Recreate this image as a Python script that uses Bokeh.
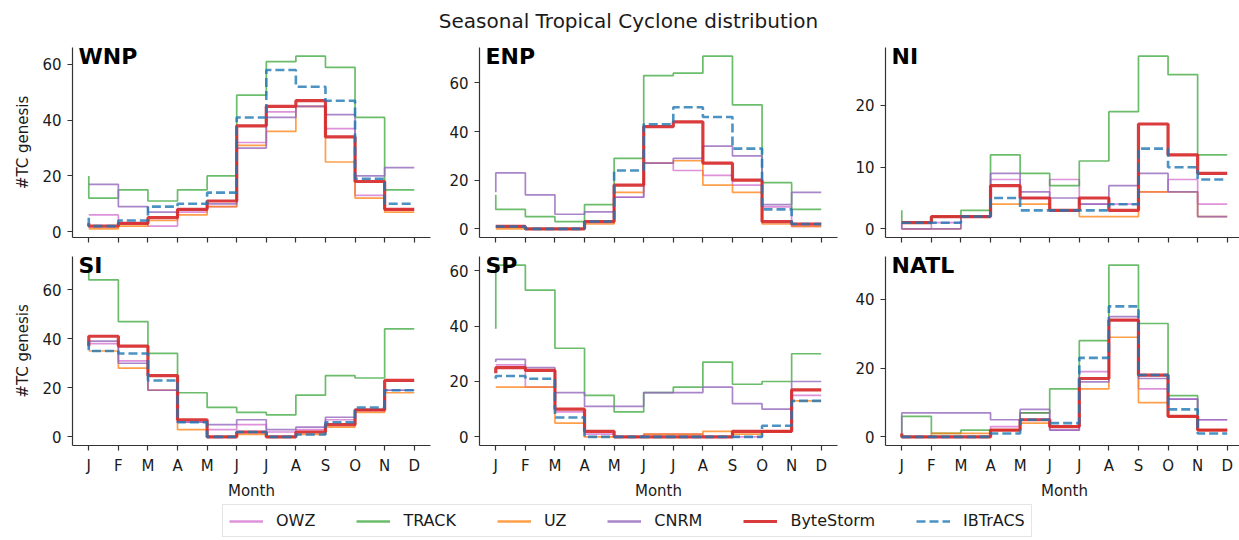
from bokeh.plotting import figure
from bokeh.layouts import column, row
from bokeh.models import Range1d, FixedTicker, SingleIntervalTicker, Label, Legend, LegendItem
from bokeh.embed import file_html
from bokeh.resources import INLINE

# ---------------- data ----------------
months = ["J", "F", "M", "A", "M", "J", "J", "A", "S", "O", "N", "D"]
regions = ["WNP", "ENP", "NI", "SI", "SP", "NATL"]
series_names = ["OWZ", "TRACK", "UZ", "CNRM", "ByteStorm", "IBTrACS"]

owz_wnp = [6, 6, 3, 2, 7, 9, 32, 43, 45, 37, 13, 8]
track_wnp = [20, 12, 15, 11, 15, 20, 49, 61, 63, 59, 41, 15]
uz_wnp = [1, 1, 2, 4, 6, 9, 31, 36, 45, 25, 12, 7]
cnrm_wnp = [17, 17, 9, 7, 8, 10, 30, 41, 45, 42, 20, 23]
bytestorm_wnp = [3, 2, 3, 5, 8, 11, 38, 45, 47, 34, 18, 8]
ibtracs_wnp = [5, 2, 4, 9, 10, 14, 41, 58, 52, 47, 19, 10]

owz_enp = [1, 1, 0, 0, 3, 13, 27, 24, 22, 18, 9, 1]
track_enp = [14, 8, 5, 3, 10, 29, 63, 64, 71, 51, 19, 8]
uz_enp = [0, 0, 0, 0, 2, 15, 27, 28, 18, 15, 2, 1]
cnrm_enp = [15, 23, 14, 6, 7, 13, 27, 29, 34, 30, 10, 15]
bytestorm_enp = [1, 1, 0, 0, 3, 18, 42, 44, 27, 20, 3, 2]
ibtracs_enp = [1, 1, 0, 0, 3, 24, 43, 50, 46, 33, 8, 2]

owz_ni = [1, 0, 1, 2, 8, 5, 8, 4, 4, 6, 8, 4]
track_ni = [3, 1, 2, 3, 12, 9, 7, 11, 19, 28, 25, 12]
uz_ni = [0, 0, 0, 2, 4, 4, 3, 2, 2, 6, 6, 2]
cnrm_ni = [1, 0, 0, 2, 9, 6, 5, 4, 7, 9, 6, 2]
bytestorm_ni = [1, 1, 2, 2, 7, 5, 3, 5, 3, 17, 12, 9]
ibtracs_ni = [1, 1, 1, 2, 5, 3, 3, 3, 4, 13, 10, 8]

owz_si = [36, 38, 31, 19, 6, 3, 5, 2, 3, 7, 11, 19]
track_si = [70, 64, 47, 34, 18, 12, 10, 9, 17, 25, 24, 44]
uz_si = [35, 35, 28, 19, 3, 0, 1, 0, 1, 4, 10, 18]
cnrm_si = [38, 39, 30, 19, 6, 5, 7, 3, 4, 8, 11, 19]
bytestorm_si = [37, 41, 37, 25, 7, 0, 2, 0, 2, 5, 11, 23]
ibtracs_si = [39, 35, 34, 23, 6, 0, 2, 0, 1, 6, 12, 19]

owz_sp = [26, 26, 18, 9, 1, 0, 1, 1, 0, 0, 2, 15]
track_sp = [39, 62, 53, 32, 15, 9, 16, 18, 27, 19, 20, 30]
uz_sp = [18, 18, 18, 5, 0, 0, 1, 1, 2, 1, 2, 13]
cnrm_sp = [27, 28, 25, 16, 11, 11, 16, 16, 18, 12, 10, 20]
bytestorm_sp = [23, 25, 24, 10, 2, 0, 0, 0, 0, 2, 2, 17]
ibtracs_sp = [21, 22, 21, 7, 0, 0, 0, 0, 0, 0, 4, 13]

owz_natl = [0, 0, 0, 0, 3, 7, 2, 19, 34, 14, 11, 5]
track_natl = [0, 6, 1, 2, 2, 7, 14, 28, 50, 33, 12, 2]
uz_natl = [0, 0, 1, 1, 2, 4, 3, 14, 29, 10, 6, 2]
cnrm_natl = [1, 7, 7, 7, 5, 8, 2, 16, 35, 17, 11, 5]
bytestorm_natl = [1, 0, 0, 0, 2, 5, 3, 17, 34, 18, 6, 2]
ibtracs_natl = [0, 0, 0, 0, 1, 5, 4, 23, 38, 18, 8, 1]

region_data = {
    "WNP": [owz_wnp, track_wnp, uz_wnp, cnrm_wnp, bytestorm_wnp, ibtracs_wnp],
    "ENP": [owz_enp, track_enp, uz_enp, cnrm_enp, bytestorm_enp, ibtracs_enp],
    "NI": [owz_ni, track_ni, uz_ni, cnrm_ni, bytestorm_ni, ibtracs_ni],
    "SI": [owz_si, track_si, uz_si, cnrm_si, bytestorm_si, ibtracs_si],
    "SP": [owz_sp, track_sp, uz_sp, cnrm_sp, bytestorm_sp, ibtracs_sp],
    "NATL": [owz_natl, track_natl, uz_natl, cnrm_natl, bytestorm_natl, ibtracs_natl],
}
ytick_interval = {"WNP": 20, "ENP": 20, "NI": 10, "SI": 20, "SP": 20, "NATL": 20}

# ---------------- styles ----------------
FONT = "DejaVu Sans"
TXT = "#1a1a1a"
styles = [
    dict(line_color="#d77fd4", line_alpha=0.85, line_width=1.7, line_dash="solid"),
    dict(line_color="#2ca02c", line_alpha=0.7, line_width=1.7, line_dash="solid"),
    dict(line_color="#ff7f0e", line_alpha=0.75, line_width=1.7, line_dash="solid"),
    dict(line_color="#9467bd", line_alpha=0.8, line_width=1.7, line_dash="solid"),
    dict(line_color="#d62728", line_alpha=0.9, line_width=3.2, line_dash="solid"),
    dict(line_color="#1f77b4", line_alpha=0.8, line_width=2.6, line_dash="9 4"),
]
legend_widths = [2.6, 2.6, 2.6, 2.6, 3.0, 2.6]

FRAME_W = 358
border_left = [72, 31, 31]
border_right = [16, 15, 0]
frame_h = [190, 189]
border_top = [14, 8]
border_bottom = [11, 58]
TITLE_H = 33
LEGEND_H = 36


def make_panel(idx):
    name = regions[idx]
    r, c = divmod(idx, 3)
    vals = region_data[name]
    lo = min(min(v) for v in vals)
    hi = max(max(v) for v in vals)
    pad = 0.05 * (hi - lo)
    xs = list(range(len(months)))
    p = figure(
        frame_width=FRAME_W, frame_height=frame_h[r],
        min_border_left=border_left[c], min_border_right=border_right[c],
        min_border_top=border_top[r], min_border_bottom=border_bottom[r],
        x_range=Range1d(-0.55, len(months) - 1 + 0.55),
        y_range=Range1d(lo - pad, hi + pad),
        toolbar_location=None, output_backend="svg", title=None,
    )
    p.grid.visible = False
    p.outline_line_color = None
    p.background_fill_color = "white"
    p.border_fill_color = "white"

    for ax in (p.xaxis[0], p.yaxis[0]):
        ax.axis_line_color = "#333333"
        ax.axis_line_width = 1.2
        ax.major_tick_line_color = "#333333"
        ax.major_tick_line_width = 1.2
        ax.major_tick_in = 0
        ax.major_tick_out = 5
        ax.minor_tick_line_color = None
        ax.major_label_text_font = FONT
        ax.major_label_text_font_size = "15px"
        ax.major_label_text_color = TXT
        ax.major_label_standoff = 6
        ax.axis_label_text_font = FONT
        ax.axis_label_text_font_size = "15px"
        ax.axis_label_text_font_style = "normal"
        ax.axis_label_text_color = TXT

    p.xaxis.ticker = FixedTicker(ticks=xs)
    p.xaxis.major_label_overrides = {i: m for i, m in enumerate(months)}
    p.yaxis.ticker = SingleIntervalTicker(interval=ytick_interval[name], num_minor_ticks=0)

    if r == 0:
        # shared x axis: ticks only, labels not drawn
        p.xaxis.major_label_text_color = None
        p.xaxis.major_label_text_font_size = "1px"
        p.xaxis.major_label_standoff = 0
    else:
        p.xaxis.axis_label = "Month"
        p.xaxis.axis_label_standoff = 4
    if c == 0:
        p.yaxis.axis_label = "#TC genesis"
        p.yaxis.axis_label_standoff = 7

    for st, v in zip(styles, vals):
        p.step(x=xs, y=v, mode="before", **st)

    p.add_layout(Label(
        x=-0.55, y=hi + pad, x_offset=6, y_offset=4, text=name,
        text_font=FONT, text_font_style="bold", text_font_size="22px",
        text_color="black", text_align="left", text_baseline="top",
    ))
    return p


panels = [make_panel(i) for i in range(6)]
total_w = sum(border_left) + sum(border_right) + 3 * FRAME_W

# title
tf = figure(width=total_w, height=TITLE_H, x_range=Range1d(0, total_w), y_range=Range1d(0, TITLE_H),
            x_axis_type=None, y_axis_type=None, min_border=0,
            toolbar_location=None, output_backend="svg", title=None)
tf.grid.visible = False
tf.outline_line_color = None
tf.add_layout(Label(x=628, y=TITLE_H - 20, text="Seasonal Tropical Cyclone distribution",
                    text_font=FONT, text_font_size="20px", text_color=TXT,
                    text_align="center", text_baseline="middle"))

# legend (proxy renderers use real data but sit outside this strip's x range)
lf = figure(width=total_w, height=LEGEND_H, x_range=Range1d(-10, -5), y_range=Range1d(0, 1),
            x_axis_type=None, y_axis_type=None, min_border=0,
            toolbar_location=None, output_backend="svg", title=None)
lf.grid.visible = False
lf.outline_line_color = None
items = []
xs_all = list(range(len(months)))
for st, lw, s, v in zip(styles, legend_widths, series_names, region_data["WNP"]):
    st2 = dict(st)
    st2["line_width"] = lw
    rr = lf.line(x=xs_all, y=v, **st2)
    items.append(LegendItem(label=s, renderers=[rr]))
leg = Legend(items=items, orientation="horizontal", location=(222, 2),
             label_text_font=FONT, label_text_font_size="16px", label_text_color=TXT,
             glyph_width=34, glyph_height=18, label_height=18, label_standoff=13,
             spacing=41, padding=6, margin=0,
             border_line_color="#cccccc", border_line_width=1,
             background_fill_color="white", background_fill_alpha=1)
lf.add_layout(leg)

layout = column(
    tf,
    row(panels[0], panels[1], panels[2], spacing=0),
    row(panels[3], panels[4], panels[5], spacing=0),
    lf,
    spacing=0,
)

open("out.html", "w").write(file_html(layout, INLINE))
